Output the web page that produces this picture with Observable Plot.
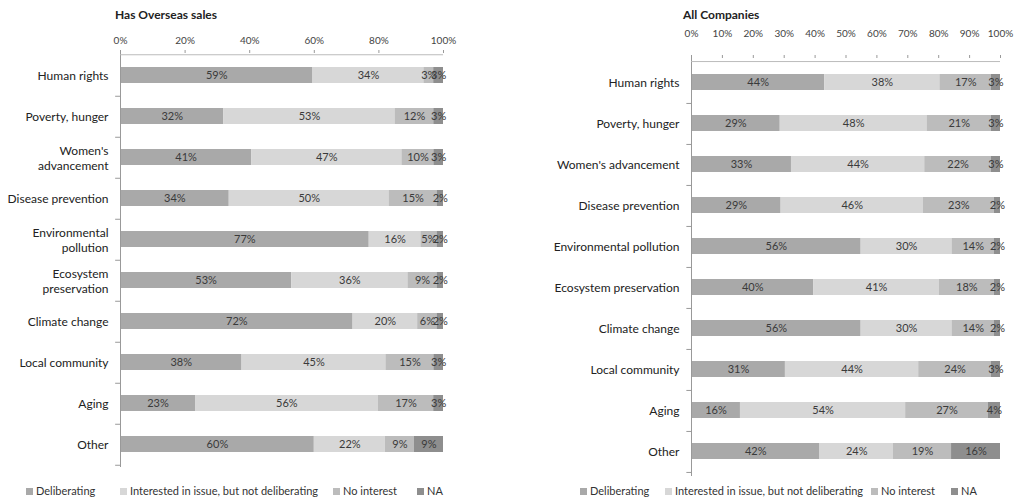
<!DOCTYPE html>
<html><head><meta charset="utf-8">
<script src="https://cdn.jsdelivr.net/npm/d3@7"></script>
<script src="https://cdn.jsdelivr.net/npm/@observablehq/plot@0.6"></script>
<style>
body{margin:0;background:#fff;font-family:Lato,"Open Sans",sans-serif;}
#wrap{position:relative;width:1018px;height:501px;overflow:hidden;}
.panel{position:absolute;top:0;}
.title{position:absolute;font-weight:bold;font-size:12px;color:#222;}
.legend{position:absolute;font-size:11px;color:#333;white-space:nowrap;}
.legend span.sw{display:inline-block;width:7px;height:7px;margin-right:3px;vertical-align:0px;}
</style></head>
<body><div id="wrap"></div>
<script>
const seriesNames = ["Deliberating","Interested in issue, but not deliberating","No interest","NA"];
const seriesColors = ["#a9a9a9","#d7d7d7","#bcbcbc","#8e8e8e"];
const categoriesLeft = ["Human rights","Poverty, hunger","Women's\nadvancement","Disease prevention","Environmental\npollution","Ecosystem\npreservation","Climate change","Local community","Aging","Other"];
const categoriesRight = ["Human rights","Poverty, hunger","Women's advancement","Disease prevention","Environmental pollution","Ecosystem preservation","Climate change","Local community","Aging","Other"];

const overseasDeliberating = [59,32,41,34,77,53,72,38,23,60];
const overseasInterested   = [34,53,47,50,16,36,20,45,56,22];
const overseasNoInterest   = [3,12,10,15,5,9,6,15,17,9];
const overseasNA           = [3,3,3,2,2,2,2,3,3,9];

const allDeliberating = [44,29,33,29,56,40,56,31,16,42];
const allInterested   = [38,48,44,46,30,41,30,44,54,24];
const allNoInterest   = [17,21,22,23,14,18,14,24,27,19];
const allNA           = [3,3,3,2,2,2,2,3,4,16];

const ticksLeft = [0,0.2,0.4,0.6,0.8,1];
const ticksRight = [0,0.1,0.2,0.3,0.4,0.5,0.6,0.7,0.8,0.9,1];

function table(cats, arrays){
  const rows = [];
  cats.forEach((c,i)=>arrays.forEach((a,j)=>rows.push({cat:c, series:seriesNames[j], value:a[i]})));
  return rows;
}

function panel(cats, arrays, o){
  const data = table(cats, arrays);
  const step = (o.height - o.mt - o.mb)/cats.length;
  const stack = {x:"value", y:"cat", z:"series", offset:"normalize"};
  return Plot.plot({
    width:o.width, height:o.height,
    marginTop:o.mt, marginBottom:o.mb, marginLeft:o.ml, marginRight:o.mr,
    style:{fontFamily:"Lato, 'Open Sans', sans-serif", background:"transparent"},
    x:{domain:[0,1], axis:null, label:null},
    y:{domain:cats, paddingInner:0.6, paddingOuter:0.3, axis:null, label:null},
    color:{domain:seriesNames, range:seriesColors},
    marks:[
      Plot.barX(data, Plot.stackX({...stack, fill:"series"})),
      Plot.text(data, Plot.stackX({...stack, text:d=>d.value+"%", fill:"#3a3a3a", fontSize:11})),
      Plot.ruleX([0], {stroke:"#999"}),
      Plot.ruleY([cats[0]], {x1:0, x2:1, dy:-step/2, stroke:"#bbb"}),
      Plot.ruleY(cats, {x1:o.tickLen, x2:0, dy:step/2, stroke:"#999"}),
      Plot.axisX({anchor:"top", label:null, ticks:o.ticks, tickFormat:d3.format(".0%"), tickSize:3, tickPadding:o.tp, fontSize:10, color:"#444", stroke:"#999"}),
      Plot.axisY({label:null, tickSize:0, tickPadding:o.ypad, fontSize:12, lineHeight:1.25, color:"#222"})
    ]
  });
}

const wrap = document.getElementById("wrap");
function place(el, left){ el.classList.add("panel"); el.style.left = left+"px"; wrap.appendChild(el); }

const leftChart = panel(categoriesLeft, [overseasDeliberating,overseasInterested,overseasNoInterest,overseasNA],
  {width:460, height:480, mt:52, mb:13, ml:120, mr:17, ticks:ticksLeft, tp:6, ypad:12, tickLen:-0.015});
place(leftChart, 0);
const rightChart = panel(categoriesRight, [allDeliberating,allInterested,allNoInterest,allNA],
  {width:478, height:490, mt:57, mb:14, ml:151, mr:18, ticks:ticksRight, tp:18, ypad:12, tickLen:-0.015});
place(rightChart, 540);

function title(text, x){ const d=document.createElement("div"); d.className="title"; d.textContent=text; d.style.left=x+"px"; d.style.top="7px"; wrap.appendChild(d); }
title("Has Overseas sales", 115);
title("All Companies", 683);

function legend(xs){
  seriesNames.forEach((s,i)=>{
    const d=document.createElement("div"); d.className="legend";
    d.style.left=xs[i]+"px"; d.style.top="484px";
    const sw=document.createElement("span"); sw.className="sw"; sw.style.background=seriesColors[i];
    d.appendChild(sw); d.appendChild(document.createTextNode(s)); wrap.appendChild(d);
  });
}
legend([26,120,333,417]);
legend([580,665,871,951]);
</script></body></html>
